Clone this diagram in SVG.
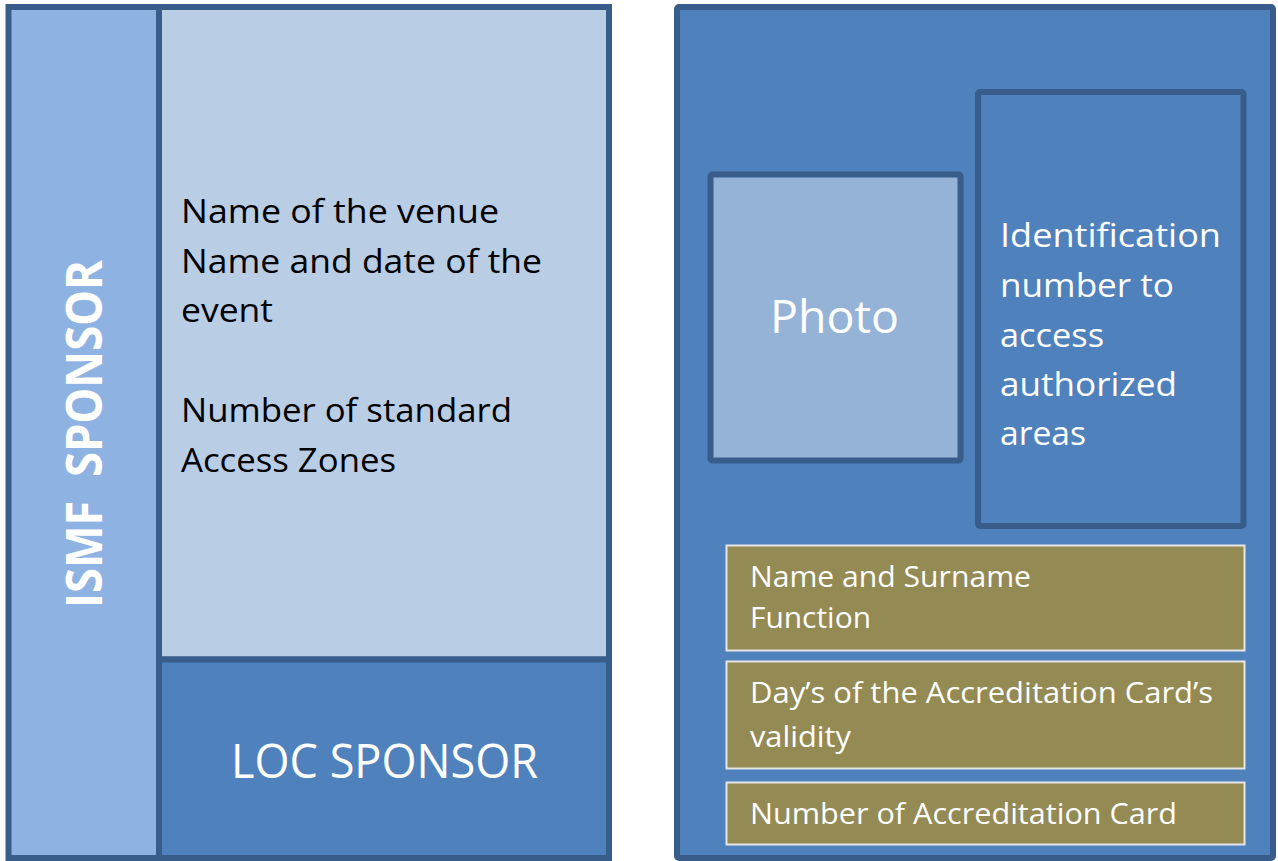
<svg xmlns="http://www.w3.org/2000/svg" width="1278" height="861" viewBox="0 0 1278 861">
<style>
.b{stroke:#385d8a;stroke-width:6}
.ol{fill:#948a54;stroke:#e6e6e6;stroke-width:2}
text{font-family:"Open Sans","Noto Sans","Liberation Sans",sans-serif}
.dk{fill:#000;font-size:33px}
.wt{fill:#fff}
</style>
<rect width="1278" height="861" fill="#fff"/>
<g id="left-card">
  <g id="ismf-strip">
    <rect class="b" x="8.5" y="7" width="150.5" height="851" fill="#8eb3e2"/>
    <text class="wt" transform="translate(102,434) rotate(-90)" text-anchor="middle" font-size="50" font-weight="bold" textLength="348" lengthAdjust="spacingAndGlyphs">ISMF&#160; SPONSOR</text>
  </g>
  <g id="event-info">
    <rect class="b" x="159" y="7" width="450" height="652.5" fill="#b9cde5"/>
    <text class="dk" x="181" y="223" textLength="318" lengthAdjust="spacingAndGlyphs">Name of the venue</text>
    <text class="dk" x="181" y="273" textLength="361" lengthAdjust="spacingAndGlyphs">Name and date of the</text>
    <text class="dk" x="181" y="322" textLength="92" lengthAdjust="spacingAndGlyphs">event</text>
    <text class="dk" x="181" y="422" textLength="331" lengthAdjust="spacingAndGlyphs">Number of standard</text>
    <text class="dk" x="181" y="472" textLength="215" lengthAdjust="spacingAndGlyphs">Access Zones</text>
  </g>
  <g id="loc-sponsor">
    <rect class="b" x="159" y="659.5" width="450" height="198.5" fill="#4f81bd"/>
    <text class="wt" x="231" y="778" font-size="47" textLength="307" lengthAdjust="spacingAndGlyphs">LOC SPONSOR</text>
  </g>
</g>
<g id="right-card">
  <rect class="b" x="677" y="7" width="596" height="851" fill="#4f81bd" rx="2"/>
  <g id="photo">
    <rect class="b" x="710.5" y="174.5" width="250" height="286" fill="#95b3d7" rx="2"/>
    <text class="wt" x="770" y="333" font-size="45" textLength="129" lengthAdjust="spacingAndGlyphs">Photo</text>
  </g>
  <g id="id-number">
    <rect class="b" x="978" y="92" width="265.5" height="434" fill="#4f81bd" rx="2"/>
    <text class="wt" font-size="32" x="1000" y="247" textLength="221" lengthAdjust="spacingAndGlyphs">Identification</text>
    <text class="wt" font-size="32" x="1000" y="297" textLength="174" lengthAdjust="spacingAndGlyphs">number to</text>
    <text class="wt" font-size="32" x="1000" y="347" textLength="104" lengthAdjust="spacingAndGlyphs">access</text>
    <text class="wt" font-size="32" x="1000" y="396" textLength="177" lengthAdjust="spacingAndGlyphs">authorized</text>
    <text class="wt" font-size="32" x="1000" y="445" textLength="86" lengthAdjust="spacingAndGlyphs">areas</text>
  </g>
  <g id="name-function">
    <rect class="ol" x="726.5" y="545.5" width="518" height="105"/>
    <text class="wt" font-size="29" x="750" y="587" textLength="281" lengthAdjust="spacingAndGlyphs">Name and Surname</text>
    <text class="wt" font-size="29" x="750" y="628" textLength="121" lengthAdjust="spacingAndGlyphs">Function</text>
  </g>
  <g id="validity">
    <rect class="ol" x="726.5" y="661.5" width="518" height="107"/>
    <text class="wt" font-size="29" x="750" y="703" textLength="463" lengthAdjust="spacingAndGlyphs">Day’s of the Accreditation Card’s</text>
    <text class="wt" font-size="29" x="750" y="747" textLength="101" lengthAdjust="spacingAndGlyphs">validity</text>
  </g>
  <g id="card-number">
    <rect class="ol" x="726.5" y="782.5" width="518" height="62"/>
    <text class="wt" font-size="29" x="750" y="824" textLength="427" lengthAdjust="spacingAndGlyphs">Number of Accreditation Card</text>
  </g>
</g>
<g id="connectors"/>
</svg>
